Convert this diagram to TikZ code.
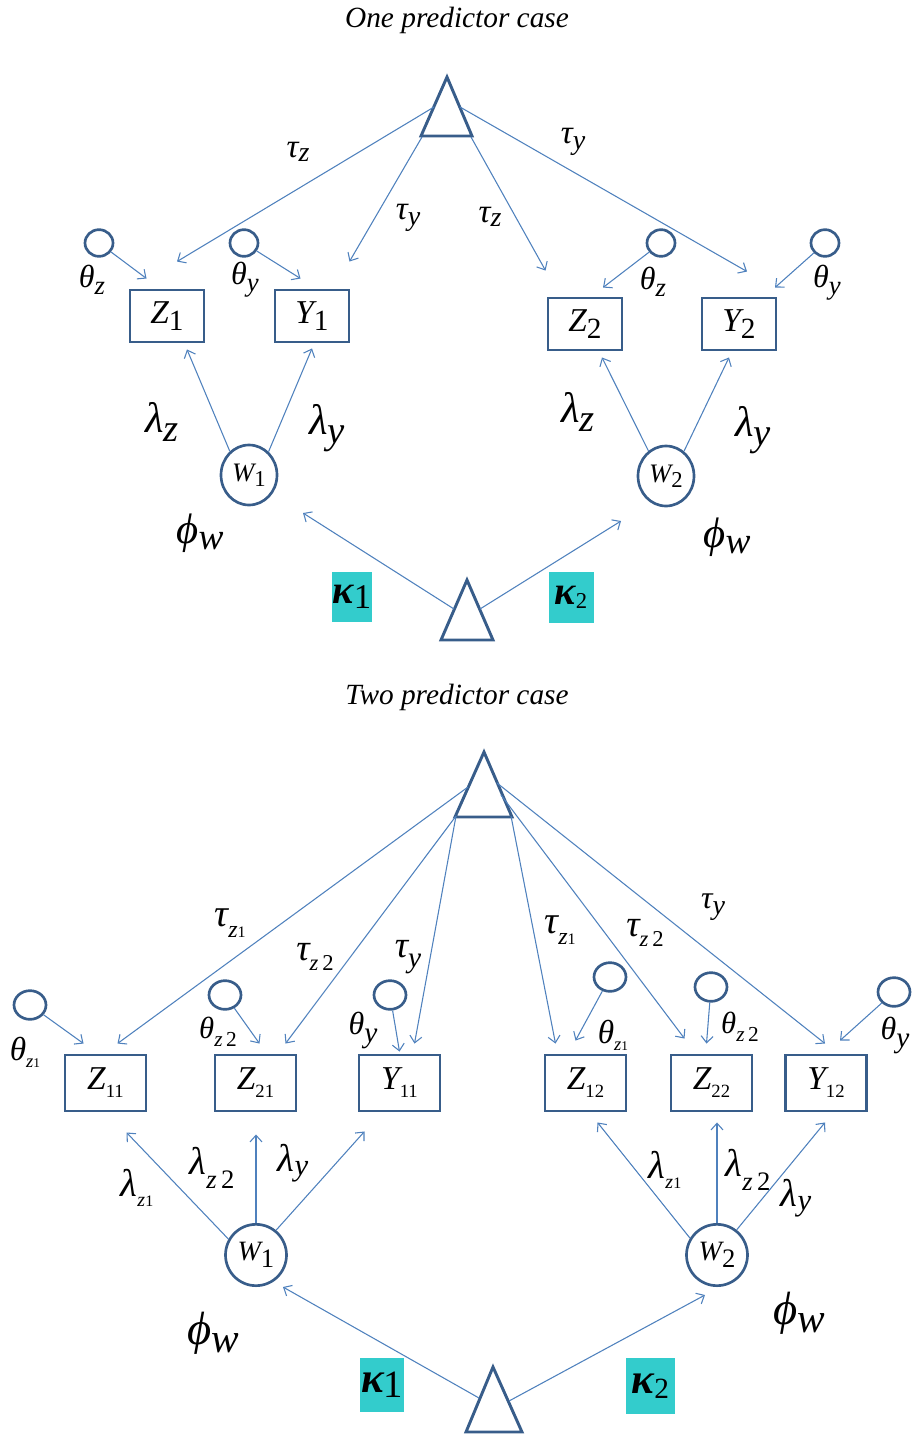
\documentclass[tikz,border=0pt]{standalone}
\usepackage{fontspec}
\setmainfont{Liberation Serif}
\newfontfamily\tnr{Liberation Serif}
\usepackage{graphicx}
\usetikzlibrary{arrows.meta,calc,shapes.geometric}
\definecolor{boxblue}{RGB}{56,93,138}
\definecolor{linkblue}{RGB}{79,129,189}
\definecolor{kcyan}{RGB}{51,204,204}
\newcommand\fs[1]{\fontsize{#1}{#1}\selectfont}
\newcommand\lo[3]{\raisebox{-#1}{\fs{#2}#3}}
\newcommand\up[1]{{\upshape #1}}
\newcommand\ph{ϕ}
\begin{document}
\begin{tikzpicture}[x=0.75pt,y=-0.75pt,
  every node/.style={font=\tnr\itshape},
  obs/.style={draw=boxblue,line width=2.2pt,minimum width=55.5pt,minimum height=39pt,inner sep=0pt},
  obsb/.style={obs,minimum width=60.75pt,minimum height=42pt},
  lat/.style={ellipse,draw=boxblue,line width=2pt,inner sep=0pt,minimum width=42pt,minimum height=45pt},
  latb/.style={lat,minimum width=45.75pt,minimum height=46pt},
  err/.style={ellipse,draw=boxblue,line width=2pt,minimum width=21pt,minimum height=20pt,inner sep=0pt},
  errb/.style={err,minimum width=24pt,minimum height=21.5pt},
  link/.style={draw=linkblue,line width=0.8pt,-{Straight Barb[length=5pt,width=9pt]}},
  tri/.style={draw=boxblue,line width=2.2pt,line join=miter},
  kbox/.style={fill=kcyan,inner sep=0pt,font=\tnr\itshape\bfseries},
  lbl/.style={inner sep=0pt},
  ttl/.style={inner sep=0pt,font=\tnr\itshape\fs{22pt}}]
\path[use as bounding box] (0,0) rectangle (915,1435);

% ================= One predictor case =================
\node[ttl] (title1) at (457,20) {One predictor case};

\draw[tri] (447,77) -- (472,136) -- (421,136) -- cycle;
\coordinate (t1l) at (434,107);
\coordinate (t1r) at (460,107);
\coordinate (t1bl) at (422,137);
\coordinate (t1br) at (471,137);

\node[obs] (Z1) at (167,316) {{\fs{25pt}Z}\lo{5pt}{22pt}{\up{1}}};
\node[obs] (Y1) at (312,316) {{\fs{25pt}Y}\lo{5pt}{22pt}{\up{1}}};
\node[obs] (Z2) at (585,324) {{\fs{25pt}Z}\lo{5pt}{22pt}{\up{2}}};
\node[obs] (Y2) at (739,324) {{\fs{25pt}Y}\lo{5pt}{22pt}{\up{2}}};

\node[err] (ez1) at (99,243) {};
\node[err] (ey1) at (244,243) {};
\node[err] (ez2) at (661,243) {};
\node[err] (ey2) at (825,243) {};

\node[lat] (W1) at (249,475) {{\fs{20pt}W}\lo{4pt}{17pt}{\up{1}}};
\node[lat] (W2) at (666,476) {{\fs{20pt}W}\lo{4pt}{17pt}{\up{2}}};

\draw[tri] (467,580) -- (493,640) -- (441,640) -- cycle;
\coordinate (t2l) at (454,609);
\coordinate (t2r) at (480,609);

\node[kbox,minimum width=30pt,minimum height=37.5pt] (k1) at (352,597) {{\fs{30pt}κ}\lo{4pt}{26pt}{\up{\mdseries 1}}};
\node[kbox,minimum width=33.75pt,minimum height=38.25pt] (k2) at (571,597) {{\fs{30pt}κ}\lo{3pt}{17pt}{\up{\mdseries 2}}};

% connectors
\draw[link] (t1l) -- ($(Z1.north)+(10,-27)$);
\draw[link] (t1bl) -- ($(Y1.north east)+(-1,-27)$);
\draw[link] (t1br) -- ($(Z2.north west)+(-1,-26)$);
\draw[link] (t1r) -- ($(Y2.north)+(8,-25)$);

\draw[link] (ez1) -- ($(Z1.north west)+(18,-10)$);
\draw[link] (ey1) -- ($(Y1.north west)+(27,-10)$);
\draw[link] (ez2) -- ($(Z2.north)+(18,-9)$);
\draw[link] (ey2) -- ($(Y2.north)+(36,-9)$);

\draw[link] (W1.129) -- ($(Z1.south)+(20,6)$);
\draw[link] (W1.50) -- ($(Y1.south)+(0,5)$);
\draw[link] (W2.125) -- ($(Z2.south)+(17,6)$);
\draw[link] (W2.54) -- ($(Y2.south)+(-10,6)$);

\draw[link] (t2l) -- ($(W1)+(54,38)$);
\draw[link] (t2r) -- ($(W2)+(-45,45)$);

% labels
\node[lbl] (tz1) at (298,152) {{\fs{25pt}τ}\lo{3pt}{21pt}{z}};
\node[lbl] (ty1) at (408,218) {{\fs{25pt}τ}\lo{4pt}{21pt}{y}};
\node[lbl] (tz2) at (490,217) {{\fs{25pt}τ}\lo{3pt}{21pt}{z}};
\node[lbl] (ty2) at (573,142) {{\fs{25pt}τ}\lo{4pt}{21pt}{y}};

\node[lbl] (thz1) at (92,280) {{\fs{24pt}θ}\lo{5pt}{20pt}{z}};
\node[lbl] (thy1) at (245,280) {{\fs{24pt}θ}\lo{5pt}{20pt}{y}};
\node[lbl] (thz2) at (653,282) {{\fs{24pt}θ}\lo{5pt}{20pt}{z}};
\node[lbl] (thy2) at (827,283) {{\fs{24pt}θ}\lo{5pt}{20pt}{y}};

\node[lbl] (lz1) at (162,422) {{\fs{32pt}λ}\lo{7pt}{29pt}{z}};
\node[lbl] (ly1) at (327,428) {{\fs{32pt}λ}\lo{7pt}{29pt}{y}};
\node[lbl] (lz2) at (578,412) {{\fs{32pt}λ}\lo{7pt}{29pt}{z}};
\node[lbl] (ly2) at (753,430) {{\fs{32pt}λ}\lo{7pt}{29pt}{y}};

\node[lbl] (pw1) at (200,533) {{\fs{32pt}\ph}\lo{5pt}{28pt}{w}};
\node[lbl] (pw2) at (727,537) {{\fs{32pt}\ph}\lo{5pt}{28pt}{w}};

% ================= Two predictor case =================
\node[ttl] (title2) at (457,697) {Two predictor case};

\draw[tri] (484,752) -- (512,817) -- (455,817) -- cycle;
\coordinate (t3l) at (468,787);
\coordinate (t3bl) at (456,816);
\coordinate (t3br) at (511,816);
\coordinate (t3r1) at (497,783);
\coordinate (t3r2) at (501,795);

\node[obsb] (Z11) at (105.5,1083) {{\fs{25pt}Z}\lo{6pt}{14pt}{\up{11}}};
\node[obsb] (Z21) at (255.5,1083) {{\fs{25pt}Z}\lo{6pt}{14pt}{\up{21}}};
\node[obsb] (Y11) at (399.5,1083) {{\fs{25pt}Y}\lo{6pt}{14pt}{\up{11}}};
\node[obsb] (Z12) at (585.5,1083) {{\fs{25pt}Z}\lo{6pt}{14pt}{\up{12}}};
\node[obsb] (Z22) at (711.5,1083) {{\fs{25pt}Z}\lo{6pt}{14pt}{\up{22}}};
\node[obsb] (Y12) at (826,1083) {{\fs{25pt}Y}\lo{6pt}{14pt}{\up{12}}};

\node[errb] (e1) at (30,1005) {};
\node[errb] (e2) at (225,995) {};
\node[errb] (e3) at (390,995) {};
\node[errb] (e4) at (610,977) {};
\node[errb] (e5) at (711,987) {};
\node[errb] (e6) at (894,992) {};

\node[latb] (W3) at (256,1255) {{\fs{21pt}W}\lo{5pt}{20pt}{\up{1}}};
\node[latb] (W4) at (717,1255) {{\fs{21pt}W}\lo{5pt}{20pt}{\up{2}}};

\draw[tri] (493,1367) -- (522,1432) -- (466,1432) -- cycle;
\coordinate (t4l) at (479,1398);
\coordinate (t4r) at (509,1401);

\node[kbox,minimum width=33pt,minimum height=40.5pt] (k3) at (382,1385) {{\fs{32pt}κ}\lo{4pt}{29pt}{\up{\mdseries 1}}};
\node[kbox,minimum width=36.75pt,minimum height=42pt] (k4) at (650.5,1386) {{\fs{32pt}κ}\lo{4pt}{22pt}{\up{\mdseries 2}}};

% connectors
\draw[link] (t3l) -- ($(Z11.north)+(12,-10)$);
\draw[link] (t3bl) -- ($(Z21.north)+(30,-10)$);
\draw[link] (t3bl) -- ($(Y11.north)+(15,-10)$);
\draw[link] (t3br) -- ($(Z12.north)+(-30,-10)$);
\draw[link] (t3r2) -- ($(Z22.north)+(-27,-15)$);
\draw[link] (t3r1) -- ($(Y12.north)+(-1,-10)$);

\draw[link] (e1) -- ($(Z11.north west)+(20,-10)$);
\draw[link] (e2) -- ($(Z21.north)+(4,-10)$);
\draw[link] (e3) -- ($(Y11.north)+(0,-2)$);
\draw[link] (e4) -- ($(Z12.north)+(-10,-13)$);
\draw[link] (e5) -- ($(Z22.north)+(-5,-10)$);
\draw[link] (e6) -- ($(Y12.north)+(14,-13)$);

\draw[link] (W3.150) -- ($(Z11.south)+(21,20)$);
\draw[link] (W3.90) -- ($(W3.90 |- Z21.south)+(0,22)$);
\draw[link] (W3.51) -- ($(Y11.south)+(-35,19)$);
\draw[link] (W4.148) -- ($(Z12.south)+(12,10)$);
\draw[link] (W4.90) -- ($(W4.90 |- Z22.south)+(0,10)$);
\draw[link] (W4.52) -- ($(Y12.south)+(-1,10)$);

\draw[link] (t4l) -- ($(W3)+(27,32)$);
\draw[link] (t4r) -- ($(W4)+(-12,40)$);

% labels
\node[lbl] (tz11) at (230,923) {{\fs{29pt}τ}\lo{8pt}{18pt}{z\up{\fs{12pt}1}}};
\node[lbl] (tz21) at (315,957) {{\fs{28pt}τ}\lo{7pt}{17pt}{z\,\up{2}}};
\node[lbl] (ty11) at (408,957) {{\fs{28pt}τ}\lo{7pt}{22pt}{y}};
\node[lbl] (tz12) at (560,930) {{\fs{29pt}τ}\lo{8pt}{18pt}{z\up{\fs{12pt}1}}};
\node[lbl] (tz22) at (645,933) {{\fs{28pt}τ}\lo{7pt}{17pt}{z\,\up{2}}};
\node[lbl] (ty12) at (713,907) {{\fs{24pt}τ}\lo{5pt}{21pt}{y}};

\node[lbl] (thz11) at (25,1052) {{\fs{25pt}θ}\lo{5pt}{14pt}{z\up{\fs{10pt}1}}};
\node[lbl] (thz21) at (218,1032) {{\fs{23pt}θ}\lo{6pt}{16pt}{z\,\up{2}}};
\node[lbl] (thy11) at (363,1030) {{\fs{24pt}θ}\lo{6pt}{22pt}{y}};
\node[lbl] (thz12) at (613,1035) {{\fs{25pt}θ}\lo{5pt}{14pt}{z\up{\fs{10pt}1}}};
\node[lbl] (thz22) at (740,1027) {{\fs{23pt}θ}\lo{6pt}{16pt}{z\,\up{2}}};
\node[lbl] (thy12) at (895,1035) {{\fs{24pt}θ}\lo{6pt}{22pt}{y}};

\node[lbl] (lz11) at (137,1188) {{\fs{29pt}λ}\lo{8pt}{15pt}{z\up{\fs{12pt}1}}};
\node[lbl] (lz21) at (212,1168) {{\fs{29pt}λ}\lo{10pt}{20pt}{z\,\up{2}}};
\node[lbl] (ly11) at (293,1163) {{\fs{29pt}λ}\lo{3pt}{23pt}{y}};
\node[lbl] (lz12) at (665,1170) {{\fs{29pt}λ}\lo{8pt}{15pt}{z\up{\fs{12pt}1}}};
\node[lbl] (lz22) at (748,1170) {{\fs{29pt}λ}\lo{10pt}{20pt}{z\,\up{2}}};
\node[lbl] (ly12) at (796,1198) {{\fs{29pt}λ}\lo{3pt}{23pt}{y}};

\node[lbl] (pw3) at (213,1333) {{\fs{35pt}\ph}\lo{6pt}{31pt}{w}};
\node[lbl] (pw4) at (799,1313) {{\fs{35pt}\ph}\lo{6pt}{31pt}{w}};
\end{tikzpicture}
\end{document}
